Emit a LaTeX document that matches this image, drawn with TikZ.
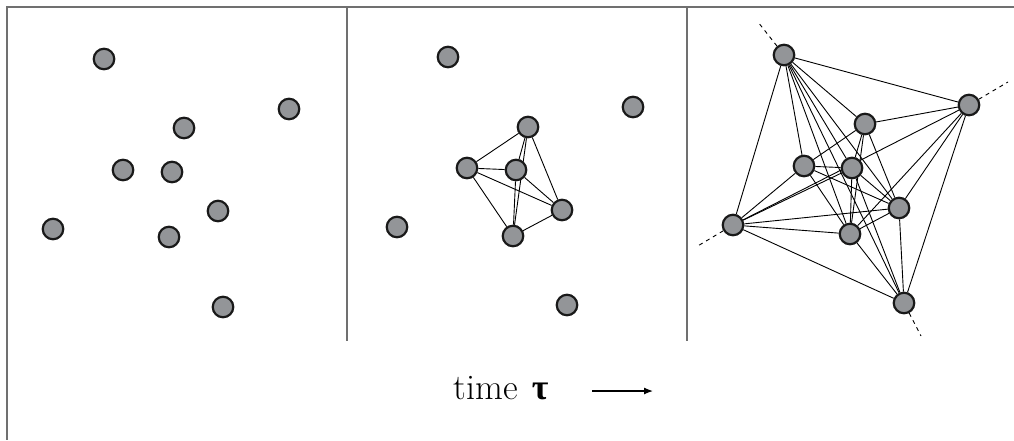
\documentclass[tikz,border=0pt]{standalone}
\usepackage{fontspec}
\newfontfamily\taufont{Liberation Serif}
\usetikzlibrary{arrows.meta,backgrounds}
\definecolor{nodegray}{HTML}{939598}
\definecolor{framegray}{HTML}{707070}
\begin{document}
\begin{tikzpicture}[x=1pt,y=-1pt,
  dot/.style={circle,draw=black!90,line width=2.2pt,fill=nodegray,minimum size=20.5pt,inner sep=0pt},
  link/.style={line width=0.9pt,black},
  hull/.style={line width=0.9pt,black,dash pattern=on 4pt off 4pt},
  frameline/.style={framegray,line width=2pt},
  timearrow/.style={line width=1.2pt,-{Latex[length=9pt,width=7pt]}}]
\useasboundingbox (0,0) rectangle (1014,440);
% frame
\coordinate (fTL) at (7,7);
\coordinate (fTR) at (1014,7);
\coordinate (fBL) at (7,440);
\coordinate (d1T) at (346.5,7);
\coordinate (d1B) at (346.5,341);
\coordinate (d2T) at (686.5,7);
\coordinate (d2B) at (686.5,341);
\draw[frameline] (fTR) -- (fTL) -- (fBL);
\draw[frameline] (d1T) -- (d1B);
\draw[frameline] (d2T) -- (d2B);
% panel 1
\node[dot] (p1a) at (104,59) {};
\node[dot] (p1b) at (289,109) {};
\node[dot] (p1c) at (184,128) {};
\node[dot] (p1d) at (123,170) {};
\node[dot] (p1e) at (172,172) {};
\node[dot] (p1f) at (218,211) {};
\node[dot] (p1g) at (53,229) {};
\node[dot] (p1h) at (169,237) {};
\node[dot] (p1i) at (223,307) {};
% panel 2
\node[dot] (p2a) at (448,57) {};
\node[dot] (p2b) at (633,107) {};
\node[dot] (p2c) at (528,127) {};
\node[dot] (p2d) at (467,168) {};
\node[dot] (p2e) at (516,170) {};
\node[dot] (p2f) at (562,210) {};
\node[dot] (p2g) at (397,227) {};
\node[dot] (p2h) at (513,236) {};
\node[dot] (p2i) at (567,305) {};
\begin{pgfonlayer}{background}
\foreach \u/\v in {c/d,c/e,c/f,c/h,d/e,d/f,d/h,e/f,e/h,f/h}
  \draw[link] (p2\u) -- (p2\v);
\end{pgfonlayer}
% panel 3
\node[dot] (p3T) at (784,55) {};
\node[dot] (p3R) at (969,105) {};
\node[dot] (p3M) at (865,124) {};
\node[dot] (p3C) at (804,166) {};
\node[dot] (p3K) at (852,168) {};
\node[dot] (p3D) at (899,208) {};
\node[dot] (p3L) at (733,225) {};
\node[dot] (p3E) at (850,234) {};
\node[dot] (p3B) at (904,303) {};
\coordinate (hT) at (758,22);
\coordinate (hR) at (1008,82);
\coordinate (hL) at (696,247);
\coordinate (hB) at (921,336);
\begin{pgfonlayer}{background}
\foreach \u/\v in {T/R,T/M,T/C,T/K,T/D,T/L,T/E,T/B,
                   R/M,R/D,R/L,R/E,R/B,
                   M/C,M/K,M/D,M/E,
                   C/K,C/D,C/L,C/E,
                   K/D,K/L,K/E,K/B,
                   D/L,D/E,D/B,
                   L/E,L/B,
                   E/B}
  \draw[link] (p3\u) -- (p3\v);
\draw[hull] (p3T) -- (hT);
\draw[hull] (p3R) -- (hR);
\draw[hull] (p3L) -- (hL);
\draw[hull] (p3B) -- (hB);
\end{pgfonlayer}
% time label
\node[anchor=base,inner sep=0pt,font=\fontsize{36}{40}\selectfont] (time) at (501,399) {time\hspace{14pt}{\taufont\bfseries τ}};
\coordinate (aS) at (592,391);
\coordinate (aE) at (653,391);
\draw[timearrow] (aS) -- (aE);
\end{tikzpicture}
\end{document}
